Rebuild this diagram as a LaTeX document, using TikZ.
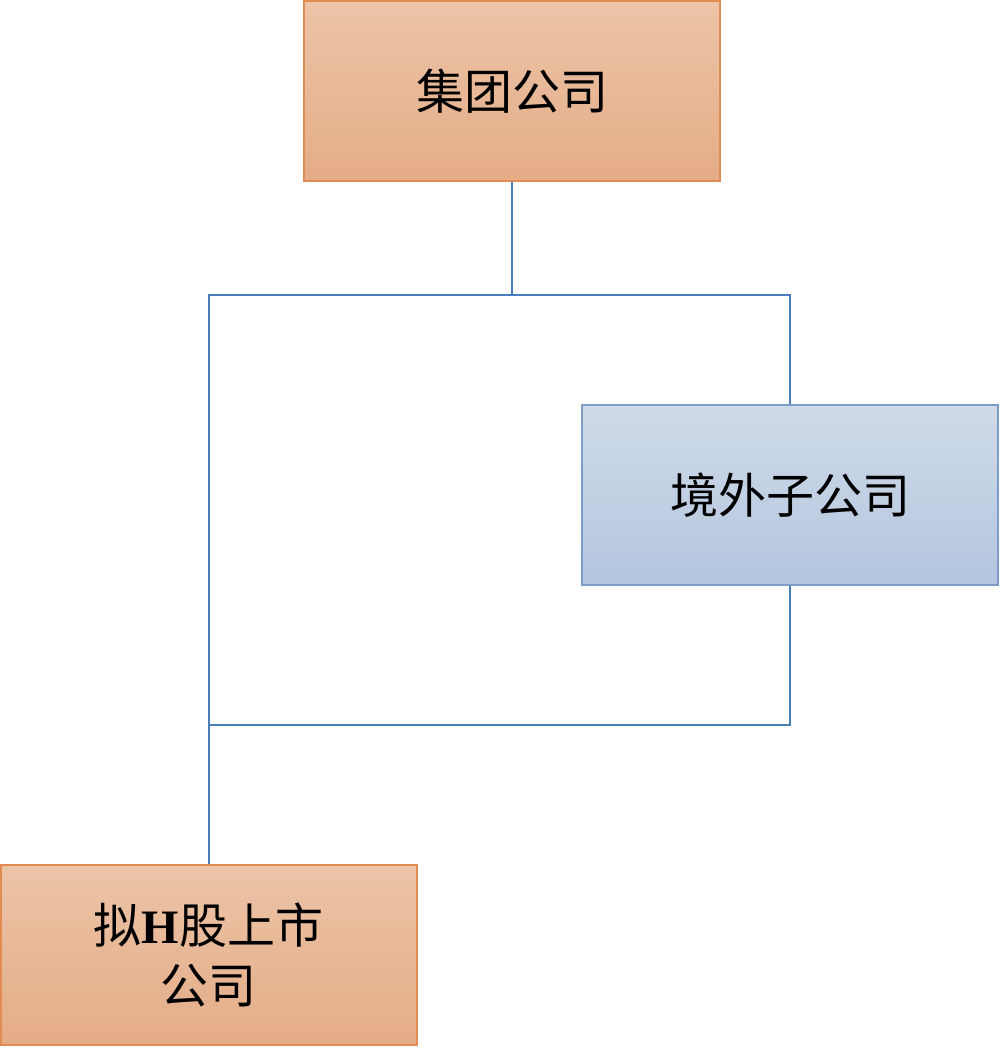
\documentclass[tikz,border=0pt]{standalone}
\usepackage{fontspec}
\setmainfont{Liberation Serif}
\newfontfamily\cjk{Noto Sans CJK SC}
\definecolor{orgtop}{HTML}{ECC4A8}
\definecolor{orgbot}{HTML}{E4AC86}
\definecolor{orgline}{HTML}{E08C52}
\definecolor{blutop}{HTML}{CFDAE8}
\definecolor{blubot}{HTML}{B3C6DF}
\definecolor{bluline}{HTML}{7C9DC8}
\definecolor{linkcol}{HTML}{4A7EBB}
\begin{document}
\begin{tikzpicture}[x=0.5pt, y=-0.5pt,
        box/.style = {rectangle, draw=#1line, line width=1pt,
                     top color=#1top, bottom color=#1bot,
                     minimum width=208pt, minimum height=90pt,
                     font=\fontsize{24}{30}\selectfont\cjk, align=center},
       link/.style = {draw=linkcol, line width=1pt}
                        ]
\useasboundingbox (0,0) rectangle (1000,1048);
\node (group) [box=org] at (512,91.5) {集团公司};
\node (sub) [box=blu] at (790,495) {境外子公司};
\node (ipo) [box=org] at (208.5,954.5) {拟{\rmfamily\bfseries H}股上市\\公司};
\coordinate (split) at (512,295);
\coordinate (merge) at (208.5,725);
\draw[link] (group) -- (split);
\draw[link] (split) -| (sub);
\draw[link] (split) -| (ipo);
\draw[link] (sub) |- (merge);
\end{tikzpicture}
\end{document}
